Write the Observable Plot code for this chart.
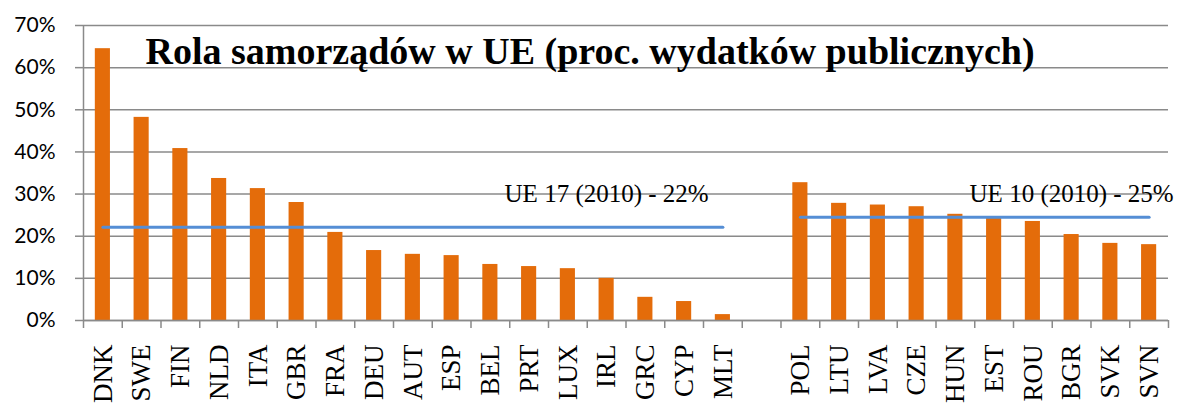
<!DOCTYPE html>
<html><head><meta charset="utf-8">
<script src="https://cdn.jsdelivr.net/npm/d3@7"></script>
<script src="https://cdn.jsdelivr.net/npm/@observablehq/plot@0.6"></script>
<style>body{margin:0;background:#fff;overflow:hidden}</style>
</head><body><div id="chart"></div>
<script>
const title = "Rola samorządów w UE (proc. wydatków publicznych)";
const ue17Countries = ["DNK","SWE","FIN","NLD","ITA","GBR","FRA","DEU","AUT","ESP","BEL","PRT","LUX","IRL","GRC","CYP","MLT"];
const ue17Values = [64.5,48.2,40.8,33.7,31.3,28.0,20.9,16.6,15.7,15.4,13.3,12.8,12.3,10.0,5.5,4.5,1.4];
const ue10Countries = ["POL","LTU","LVA","CZE","HUN","EST","ROU","BGR","SVK","SVN"];
const ue10Values = [32.7,27.8,27.4,27.0,25.2,24.6,23.5,20.4,18.3,18.0];
const ue17Avg = 22.1, ue17Label = "UE 17 (2010) - 22%";
const ue10Avg = 24.5, ue10Label = "UE 10 (2010) - 25%";
const yTicks = [0,10,20,30,40,50,60,70];
const gapKey = " ";

const domain = [...ue17Countries, gapKey, ...ue10Countries];
const bars = [
  ...ue17Countries.map((c,i)=>({country:c, value:ue17Values[i]})),
  ...ue10Countries.map((c,i)=>({country:c, value:ue10Values[i]}))
];
const avgLines = [
  {country: ue17Countries[0], value: ue17Avg, group: "UE17"},
  {country: ue17Countries[ue17Countries.length-1], value: ue17Avg, group: "UE17"},
  {country: ue10Countries[0], value: ue10Avg, group: "UE10"},
  {country: ue10Countries[ue10Countries.length-1], value: ue10Avg, group: "UE10"}
];

const W = 1181, H = 406, mL = 83, mR = 13, mT = 25, mB = 86;
const step = (W - mL - mR) / domain.length;
const pad = 0.61;
const gray = "#8a8a8a";
const serif = "'Liberation Serif', 'DejaVu Serif', serif";

const chart = Plot.plot({
  width: W, height: H,
  marginLeft: mL, marginRight: mR, marginTop: mT, marginBottom: mB,
  style: {fontFamily: serif, background: "#fff", color: "#000"},
  x: {domain, paddingInner: pad, paddingOuter: pad/2, round: false, label: null},
  y: {domain: [0, 70], label: null},
  marks: [
    Plot.gridY(yTicks, {stroke: gray, strokeOpacity: 1, strokeWidth: 1.5}),
    Plot.ruleX([domain[0]], {dx: -step/2, y1: 0, y2: 70, stroke: gray, strokeWidth: 1.5}),
    Plot.axisY({ticks: yTicks, tickFormat: d => d + "%", tickSize: 8, tickPadding: 20, stroke: gray, strokeWidth: 1.5,
      fontFamily: "Lato, 'Open Sans', sans-serif", fontSize: 21, fill: "#000", label: null}),
    Plot.barY(bars, {x: "country", y: "value", fill: "#E46C0A"}),
    Plot.ruleY([0], {stroke: gray, strokeWidth: 1.5}),
    Plot.axisX({ticks: domain, tickSize: 8, tickFormat: () => "", dx: -step/2, stroke: gray, strokeWidth: 1.5, label: null}),
    Plot.axisX({ticks: [domain[domain.length-1]], tickSize: 8, tickFormat: () => "", dx: step/2, stroke: gray, strokeWidth: 1.5, label: null}),
    Plot.axisX({ticks: domain, tickSize: 0, tickPadding: 24, tickRotate: -90, tickFormat: d => d.trim(),
      fontSize: 27, fontFamily: serif, fill: "#000", label: null}),
    Plot.line(avgLines, {x: "country", y: "value", z: "group", stroke: "#558ED5", strokeWidth: 3}),
    Plot.text([ue17Label], {x: [ue17Countries[13]], y: [ue17Avg], dy: -33, fontSize: 25, fontFamily: serif, fill: "#000"}),
    Plot.text([ue10Label], {x: [ue10Countries[7]], y: [ue10Avg], dy: -23, fontSize: 25, fontFamily: serif, fill: "#000"}),
    Plot.text([title], {frameAnchor: "top-left", textAnchor: "start", lineAnchor: "top", dx: 62, dy: 12,
      fontSize: 38, fontWeight: "bold", fontFamily: serif, fill: "#000"})
  ]
});
document.getElementById("chart").appendChild(chart);
</script>
</body></html>
